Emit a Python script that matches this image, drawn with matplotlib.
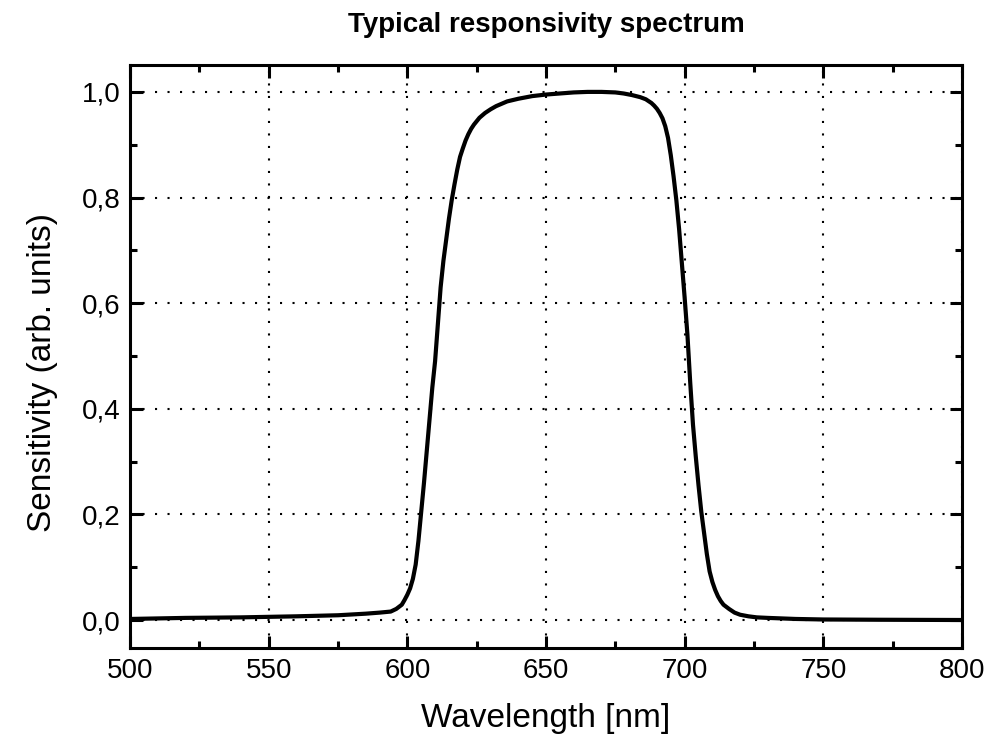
import matplotlib
matplotlib.use('Agg')
import matplotlib.pyplot as plt
from matplotlib.ticker import MultipleLocator, FuncFormatter

plt.rcParams['font.family'] = ['Liberation Sans', 'DejaVu Sans']

# spectrum
wavelength = [500, 520, 540, 560, 575, 585, 590, 594, 596, 598, 599, 600, 601, 602,
              603, 604, 605, 606, 607, 608, 609, 610, 611, 612, 613, 614, 615, 616,
              617, 618, 619, 620, 621, 622, 623, 624, 626, 628, 630, 632, 636, 640,
              645, 650, 655, 660, 665, 670, 675, 678, 681, 684, 686, 688, 689, 690,
              691, 692, 693, 694, 695, 696, 697, 698, 699, 700, 701, 702, 703, 704,
              705, 706, 707, 708, 709, 710, 711, 712, 713, 714, 716, 718, 720, 723,
              726, 730, 740, 750, 770, 800]
sensitivity = [0.002, 0.004, 0.005, 0.007, 0.009, 0.012, 0.014, 0.016, 0.021, 0.029,
               0.038, 0.048, 0.060, 0.078, 0.105, 0.150, 0.205, 0.260, 0.320, 0.380,
               0.440, 0.490, 0.560, 0.630, 0.680, 0.720, 0.760, 0.795, 0.825, 0.853,
               0.877, 0.893, 0.908, 0.920, 0.930, 0.938, 0.951, 0.960, 0.967, 0.973,
               0.982, 0.987, 0.992, 0.995, 0.997, 0.999, 1.000, 1.000, 0.999, 0.997,
               0.994, 0.990, 0.986, 0.979, 0.974, 0.968, 0.960, 0.950, 0.935, 0.913,
               0.880, 0.840, 0.795, 0.740, 0.675, 0.610, 0.540, 0.450, 0.370, 0.310,
               0.255, 0.205, 0.165, 0.125, 0.092, 0.072, 0.057, 0.045, 0.036, 0.029,
               0.021, 0.014, 0.010, 0.007, 0.005, 0.004, 0.002, 0.001, 0.0005, 0.0]

fig = plt.figure(figsize=(9.95, 7.45), dpi=100)
ax = fig.add_axes([0.1307, 0.1302, 0.8361, 0.7826])

ax.plot(wavelength, sensitivity, color='black', lw=3.0,
        solid_capstyle='round', solid_joinstyle='round')

ax.set_xlim(500, 800)
ax.set_ylim(-0.053, 1.051)
ax.xaxis.set_major_locator(MultipleLocator(50))
ax.xaxis.set_minor_locator(MultipleLocator(25))
ax.yaxis.set_major_locator(MultipleLocator(0.2))
ax.yaxis.set_minor_locator(MultipleLocator(0.1))
ax.yaxis.set_major_formatter(FuncFormatter(lambda v, p: f'{v:.1f}'.replace('.', ',')))

ax.grid(True, which='major', color='black', lw=1.5, linestyle=(0, (1, 5)))
for s in ax.spines.values():
    s.set_linewidth(2.2)
ax.tick_params(which='both', direction='in', top=True, right=True, width=2.2)
ax.tick_params(which='major', length=9, labelsize=20, pad=7)
ax.tick_params(which='minor', length=5)

ax.set_xlabel('Wavelength [nm]', fontsize=24, labelpad=14)
ax.set_ylabel('Sensitivity (arb. units)', fontsize=24)
ax.yaxis.set_label_coords(-0.087, 0.473)
ax.set_title('Typical responsivity spectrum', fontsize=20, fontweight='bold', pad=24)

plt.savefig('out.png', dpi=100)
